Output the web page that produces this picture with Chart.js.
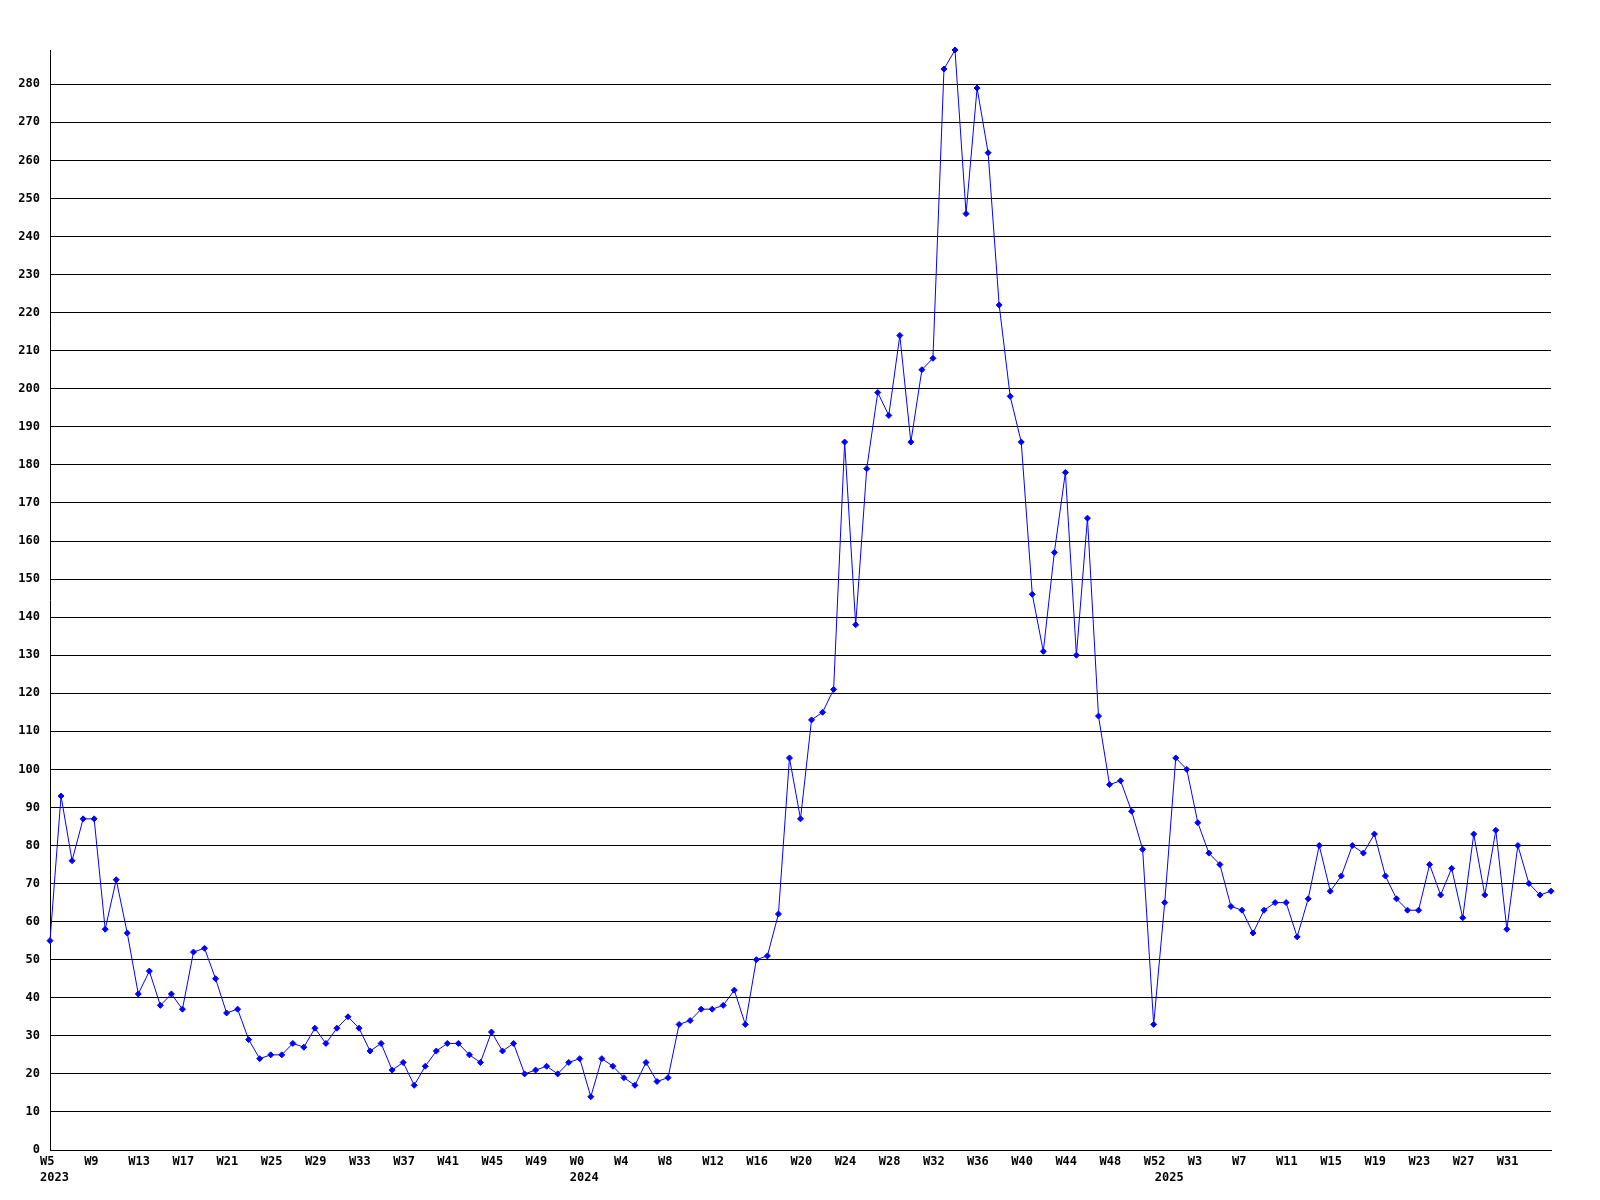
<!DOCTYPE html>
<html>
<head>
<meta charset="utf-8">
<script src="https://cdn.jsdelivr.net/npm/chart.js@4.4.0/dist/chart.umd.min.js"></script>
<style>
  html, body { margin: 0; padding: 0; background: #fff; }
</style>
</head>
<body>
<canvas id="myChart" width="1600" height="1200"></canvas>
<script>
// weekly counts
var values2023 = [55, 93, 76, 87, 87, 58, 71, 57, 41, 47, 38, 41, 37, 52, 53, 45, 36, 37, 29, 24, 25, 25, 28, 27,
  32, 28, 32, 35, 32, 26, 28, 21, 23, 17, 22, 26, 28, 28, 25, 23, 31, 26, 28, 20, 21, 22, 20, 23]
var values2024 = [24, 14, 24, 22, 19, 17, 23, 18, 19, 33, 34, 37, 37, 38, 42, 33, 50, 51, 62, 103, 87, 113, 115, 121,
  186, 138, 179, 199, 193, 214, 186, 205, 208, 284, 289, 246, 279, 262, 222, 198,
  186, 146, 131, 157, 178, 130, 166, 114, 96, 97, 89, 79, 33]
var values2025 = [65, 103, 100, 86, 78, 75, 64, 63, 57, 63, 65, 65, 56, 66, 80, 68, 72, 80, 78, 83, 72, 66, 63, 63,
  75, 67, 74, 61, 83, 67, 84, 58, 80, 70, 67, 68]
var years = ['2023', '2024', '2025']
var firstWeeks = [5, 0, 0]
var yMax = 289
var yStep = 10

var series = [values2023, values2024, values2025]
var labels = []
var values = []
var yearStart = {}
for (var y = 0; y < series.length; y++) {
  yearStart[labels.length] = years[y]
  for (var i = 0; i < series[y].length; i++) {
    labels.push('W' + (firstWeeks[y] + i))
    values.push(series[y][i])
  }
}

var font = {family: '"DejaVu Sans Mono", monospace', size: 12, weight: 'bold', lineHeight: 1.35}

var ctx = document.getElementById('myChart').getContext('2d')
var myChart = new Chart(ctx, {
  type: 'line',
  data: {
    labels: labels,
    datasets: [{
      data: values,
      borderColor: '#0000ff',
      backgroundColor: '#0000ff',
      borderWidth: 1,
      pointStyle: 'rectRot',
      pointRadius: 3,
      pointBorderWidth: 1,
      tension: 0,
      clip: false
    }]
  },
  options: {
    responsive: false,
    animation: false,
    devicePixelRatio: 1,
    layout: {padding: {top: 50, right: 49, left: 0, bottom: 0}},
    plugins: {legend: {display: false}, tooltip: {enabled: false}},
    scales: {
      x: {
        offset: false,
        grid: {display: false, drawTicks: false},
        border: {display: true, color: '#000', width: 1},
        afterFit: function(scale) { scale.height = 50 },
        ticks: {
          autoSkip: false,
          maxRotation: 0,
          minRotation: 0,
          align: 'start',
          labelOffset: -10,
          padding: 4,
          color: '#000',
          font: font,
          callback: function(value, index) {
            var yr = yearStart[index]
            // last week gets no label in the original
            var wk = (index % 4 === 0 && index < labels.length - 1) ? labels[index] : ''
            if (yr) return [wk, yr]
            if (wk) return wk
            return null
          }
        }
      },
      y: {
        min: 0,
        max: yMax,
        grid: {color: '#000', lineWidth: 1, drawTicks: false},
        border: {display: true, color: '#000', width: 1},
        afterFit: function(scale) { scale.width = 50 },
        ticks: {
          stepSize: yStep,
          includeBounds: false,
          padding: 10,
          color: '#000',
          font: font
        }
      }
    }
  }
})
</script>
</body>
</html>
